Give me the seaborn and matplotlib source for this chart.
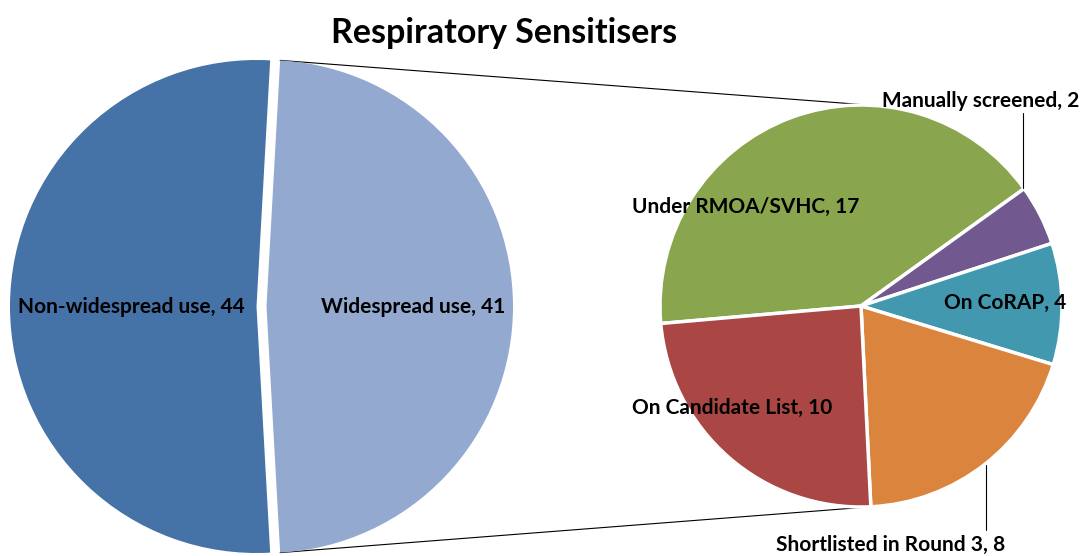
import numpy as np
import matplotlib
matplotlib.use("Agg")
import matplotlib.pyplot as plt
import seaborn as sns

# -------------------------------
# Data
# -------------------------------
main_labels = ["Non-widespread use", "Widespread use"]
main_values = [44, 41]
main_colors = ["#4572A7", "#93A9CF"]

sub_labels = ["Under RMOA/SVHC", "Manually screened", "On CoRAP",
              "Shortlisted in Round 3", "On Candidate List"]
sub_values = [17, 2, 4, 8, 10]
sub_colors = ["#89A54E", "#71588F", "#4198AF", "#DB843D", "#AA4643"]

title = "Respiratory Sensitisers"

# -------------------------------
# Figure
# -------------------------------
sns.set_theme(style="white")
plt.rcParams['font.family'] = ['Lato', 'DejaVu Sans']

W, H = 1086, 556
fig = plt.figure(figsize=(W / 100, H / 100), dpi=100)
ax = fig.add_axes([0, 0, 1, 1])

# main pie (pixel coordinates, y up)
c1 = (256.5, H - 306.5)
r1 = 246.5
gap = 10
split = main_values[1] / sum(main_values) * 360
start1 = split / 2
ax.pie(main_values, colors=main_colors, startangle=start1, counterclock=True,
       center=c1, radius=r1, explode=[0, gap], frame=True,
       wedgeprops=dict(linewidth=0))

# secondary pie
c2 = (861, H - 306)
r2 = 201
ax.pie(sub_values, colors=sub_colors, startangle=185, counterclock=False,
       center=c2, radius=r2, frame=True,
       wedgeprops=dict(edgecolor="white", linewidth=2.5))

# connector lines from the split slice to the secondary pie
a = np.deg2rad(start1)
ex = c1[0] + gap
for s in (1, -1):
    x0 = ex + r1 * np.cos(a)
    y0 = c1[1] + s * r1 * np.sin(a)
    b = np.deg2rad(87)
    x1 = c2[0] + r2 * np.cos(b)
    y1 = c2[1] + s * r2 * np.sin(b)
    ax.plot([x0, x1], [y0, y1], color="black", lw=0.8, zorder=0)

# labels
fs = 15
main_pos = [(131.5, 307), (413.5, 307)]
for (x, y), name, v in zip(main_pos, main_labels, main_values):
    ax.text(x, H - y, f"{name}, {v}", ha="center", va="center",
            fontsize=fs, fontweight="bold", color="black")

sub_pos = [(745.5, 207), (981, 101), (1005, 303), (891, 545), (732.5, 408)]
for (x, y), name, v in zip(sub_pos, sub_labels, sub_values):
    ax.text(x, H - y, f"{name}, {v}", ha="center", va="center",
            fontsize=fs, fontweight="bold", color="black")

# leader lines
ax.plot([1023, 1023], [H - 113, H - 188], color="black", lw=0.8)
ax.plot([986, 986], [H - 465, H - 530], color="black", lw=0.8)

ax.text(504, H - 33, title, ha="center", va="center",
        fontsize=24.5, fontweight="bold", color="black")

ax.set_xlim(0, W)
ax.set_ylim(0, H)
ax.set_aspect("equal")
ax.axis("off")

fig.savefig("out.png", dpi=100, facecolor="white")
